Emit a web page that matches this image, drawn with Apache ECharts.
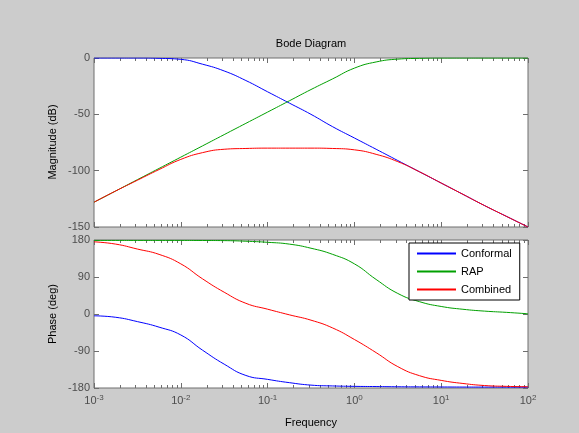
<!DOCTYPE html>
<html>
<head>
<meta charset="utf-8">
<script src="https://cdn.jsdelivr.net/npm/echarts@6/dist/echarts.min.js"></script>
<style>
  html, body { margin: 0; padding: 0; background: #cccccc; }
  #bode { width: 579px; height: 433px; }
</style>
</head>
<body>
<div id="bode"></div>
<script>
// frequencies (rad/s), quarter decades
var freq = [0.001, 0.00178, 0.00316, 0.00562, 0.01, 0.0178, 0.0316, 0.0562, 0.1, 0.178, 0.316, 0.562,
            1, 1.78, 3.16, 5.62, 10, 17.8, 31.6, 56.2, 100];

// magnitude (dB)
var magConformal = [0, 0, 0, -0.3, -1.2, -5.5, -11.5, -20, -30, -40, -50, -61,
                    -71, -81, -91, -101, -111, -121, -131, -140.5, -150];
var magRAP = [-128, -118, -108, -98, -88, -78, -68, -58, -48, -38, -28, -18.5,
              -9, -3.5, -1, -0.3, 0, 0, 0, 0, 0];
var magCombined = [-128, -118, -108.5, -99, -90, -84, -81, -80.3, -80, -80, -80, -80.3,
                   -81.5, -85.5, -92, -101, -111, -121, -131, -140.5, -150];

// phase (deg)
var phaseConformal = [-4.4, -8, -18.5, -32, -51, -88, -122, -149.5, -159, -167, -173, -175,
                      -176, -176.5, -177, -177.3, -177.5, -177.7, -177.8, -177.9, -178];
var phaseRAP = [179, 179, 179, 179, 179, 178.8, 178.5, 177, 174.4, 170, 160, 145,
                122, 84, 50, 30, 18.3, 11.5, 7, 4, 0.5];
var phaseCombined = [175.6, 170, 158, 145, 122, 85.5, 53, 26, 11.7, -2, -15, -34,
                     -62, -94, -128, -150, -161.5, -169, -174, -176, -177];

var chart = echarts.init(document.getElementById('bode'));

var FONT = 'Liberation Sans, Arial, sans-serif';
var frameColor = '#6e6e6e';

// minor ticks of the log axis (2..9 in each decade)
var minor = [];
for (var d = -3; d < 2; d++) {
    for (var k = 2; k <= 9; k++) minor.push(d + Math.log10(k));
}

function pts(arr) {
    return freq.map(function (f, i) { return [Math.log10(f), arr[i]]; });
}

function xAxes(grid, pos, labels) {
    return [{
        gridIndex: grid, type: 'value', position: pos, min: -3, max: 2, interval: 1,
        axisLine: { show: false, onZero: false },
        axisTick: { show: true, inside: true, length: 5, lineStyle: { color: frameColor } },
        splitLine: { show: false },
        axisLabel: labels ? {
            show: true, margin: 6,
            formatter: function (v) { return '{b|10}{s|' + v + '}'; },
            rich: {
                b: { fontSize: 11, fontFamily: FONT, color: '#4d4d4d', lineHeight: 14 },
                s: { fontSize: 8, fontFamily: FONT, color: '#4d4d4d', verticalAlign: 'top', lineHeight: 8 }
            }
        } : { show: false }
    }, {
        gridIndex: grid, type: 'value', position: pos, min: -3, max: 2,
        axisLine: { show: false, onZero: false },
        axisTick: { show: true, inside: true, length: 3, customValues: minor, lineStyle: { color: frameColor } },
        splitLine: { show: false },
        axisLabel: { show: false }
    }];
}

function yAxes(grid, min, max, interval) {
    var tick = { show: true, inside: true, length: 5, lineStyle: { color: frameColor } };
    return [{
        gridIndex: grid, type: 'value', position: 'left', min: min, max: max, interval: interval,
        axisLine: { show: false, onZero: false }, axisTick: tick, splitLine: { show: false },
        axisLabel: { show: true, margin: 4, fontSize: 11, fontFamily: FONT, color: '#4d4d4d' }
    }, {
        gridIndex: grid, type: 'value', position: 'right', min: min, max: max, interval: interval,
        axisLine: { show: false, onZero: false }, axisTick: tick, splitLine: { show: false },
        axisLabel: { show: false }
    }];
}

function line(name, color, xi, yi, data) {
    return {
        name: name, type: 'line', xAxisIndex: xi, yAxisIndex: yi,
        data: pts(data), symbol: 'none', smooth: 0.5, animation: false,
        lineStyle: { color: color, width: 1 }, itemStyle: { color: color }
    };
}

var blue = '#0000ff', green = '#00a000', red = '#ff0000';

chart.setOption({
    backgroundColor: '#cccccc',
    animation: false,
    grid: [
        { left: 94, top: 58, width: 434, height: 169, show: true, backgroundColor: '#fff', borderColor: frameColor, borderWidth: 1 },
        { left: 94, top: 240, width: 434, height: 148, show: true, backgroundColor: '#fff', borderColor: frameColor, borderWidth: 1 }
    ],
    xAxis: [].concat(xAxes(0, 'bottom', false), xAxes(0, 'top', false),
                     xAxes(1, 'bottom', true), xAxes(1, 'top', false)),
    yAxis: [].concat(yAxes(0, -150, 0, 50), yAxes(1, -180, 180, 90)),
    legend: {
        data: ['Conformal', 'RAP', 'Combined'],
        orient: 'vertical', left: 409, top: 243,
        backgroundColor: '#fff', borderColor: '#000', borderWidth: 1,
        padding: [4, 8, 4, 8], itemWidth: 39, itemHeight: 2, itemGap: 5, icon: 'rect',
        textStyle: { fontSize: 11, fontFamily: FONT, color: '#000', lineHeight: 13 }
    },
    graphic: [
        { type: 'text', x: 311, y: 44, style: { text: 'Bode Diagram', fontSize: 11, fontFamily: FONT, fill: '#000', align: 'center', verticalAlign: 'middle' } },
        { type: 'text', x: 53, y: 142, rotation: Math.PI / 2, style: { text: 'Magnitude (dB)', fontSize: 11, fontFamily: FONT, fill: '#000', align: 'center', verticalAlign: 'middle' } },
        { type: 'text', x: 53, y: 314, rotation: Math.PI / 2, style: { text: 'Phase (deg)', fontSize: 11, fontFamily: FONT, fill: '#000', align: 'center', verticalAlign: 'middle' } },
        { type: 'text', x: 311, y: 423, style: { text: 'Frequency', fontSize: 11, fontFamily: FONT, fill: '#000', align: 'center', verticalAlign: 'middle' } }
    ],
    series: [
        line('Conformal', blue, 0, 0, magConformal),
        line('RAP', green, 0, 0, magRAP),
        line('Combined', red, 0, 0, magCombined),
        line('Conformal', blue, 4, 2, phaseConformal),
        line('RAP', green, 4, 2, phaseRAP),
        line('Combined', red, 4, 2, phaseCombined)
    ]
});
</script>
</body>
</html>
